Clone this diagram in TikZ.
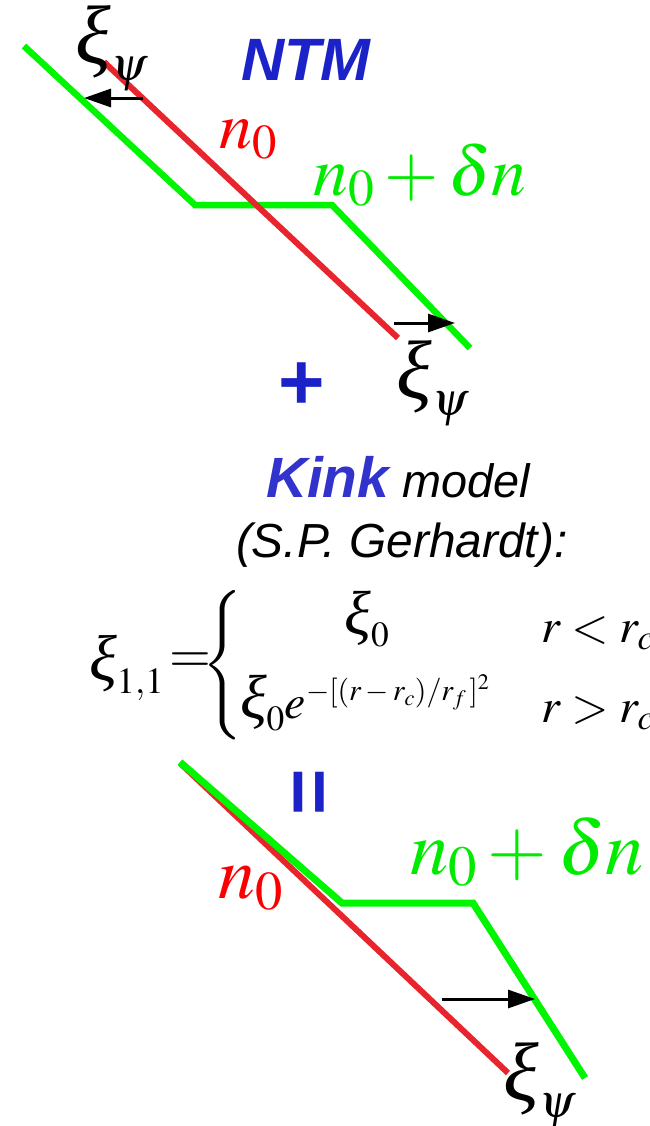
\documentclass[tikz,border=0pt]{standalone}
\usepackage{mathptmx}
\usepackage[no-math]{fontspec}
\newfontfamily\arialf{Liberation Sans}
\newfontfamily\timesf{Liberation Serif}
\usetikzlibrary{arrows.meta}
\newcommand\XI{\mbox{\timesf\itshape\addfontfeatures{Scale=1.3}ξ}}
\definecolor{lred}{RGB}{232,36,44}
\definecolor{tred}{RGB}{250,0,0}
\definecolor{lgreen}{RGB}{0,245,0}
\definecolor{tgreen}{RGB}{0,235,0}
\definecolor{ntmblue}{RGB}{26,34,200}
\definecolor{kinkblue}{RGB}{50,50,205}
\tikzset{
  redline/.style={draw=lred,line width=6bp},
  greenline/.style={draw=lgreen,line width=6.5bp,line join=miter},
  shiftarrow/.style={draw=black,line width=3bp,-{Triangle[length=27bp,width=18bp]}},
  lbl/.style={inner sep=0pt,outer sep=0pt},
  fs/.style={font=\fontsize{#1}{#1}\selectfont}
}
\begin{document}
\begin{tikzpicture}[x=1bp,y=-1bp]
\useasboundingbox (0,0) rectangle (650,1126);
% ---------- top panel (NTM)
\coordinate (g1) at (24,46);
\coordinate (g2) at (195,205);
\coordinate (g3) at (332,205);
\coordinate (g4) at (470,348);
\coordinate (r1) at (104,62);
\coordinate (r2) at (398,338);
\draw[greenline] (g1) -- (g2) -- (g3) -- (g4);
\draw[redline] (r1) -- (r2);
\coordinate (a1s) at (143,98);
\coordinate (a1e) at (84,98);
\coordinate (a2s) at (394,323);
\coordinate (a2e) at (455,323);
\draw[shiftarrow] (a1s) -- (a1e);
\draw[shiftarrow] (a2s) -- (a2e);
\node[lbl,fs=64] (xitop) at (112,48) {$\XI_\psi$};
\node[lbl,fs=66,text=tred] (n0top) at (248,140) {$n_0$};
\node[lbl,fs=70,text=tgreen] (ndtop) at (420,175) {$n_0+\delta n$};
\node[lbl,fs=60,text=ntmblue] (ntm) at (306,60) {\arialf\bfseries\itshape NTM};
\node[lbl,fs=80,text=ntmblue] (plus) at (302,386) {\arialf\bfseries +};
\node[lbl,fs=64] (xibot) at (433,383) {$\XI_\psi$};
% ---------- kink model
\node[lbl,anchor=base west] (kink) at (266,497) {\arialf\itshape{\fontsize{57}{60}\selectfont\bfseries\color{kinkblue}Kink}\fontsize{47}{50}\selectfont\ model};
\node[lbl,anchor=base west,fs=48] (gerh) at (236,557) {\arialf\itshape (S.P. Gerhardt):};
\node[lbl,anchor=west,fs=50] (lhs) at (89,668) {$\XI_{1,1}$};
\node[lbl,fs=54] (eqs) at (190,663) {$=$};
\node[lbl,fs=50] (brace) at (223,665) {$\left\{\vrule height 62bp depth 62bp width 0pt\right.$};
\node[lbl,fs=48] (c1) at (367,619) {$\XI_0$};
\node[lbl,anchor=west,fs=48] (c2) at (240,703) {$\XI_0 e^{\mbox{\fontsize{30}{30}\selectfont$-[(r-r_c)/r_f\,]^2$}}$};
\node[lbl,anchor=west,fs=48] (k1) at (541,633) {$r<r_c$};
\node[lbl,anchor=west,fs=48] (k2) at (541,713) {$r>r_c$};
% ---------- bottom panel
\node[lbl,fs=80,text=ntmblue,rotate=90] (eq) at (315,792) {\arialf\bfseries =};
\coordinate (b1) at (180,763);
\coordinate (b2) at (508,1073);
\coordinate (h1) at (180,762);
\coordinate (h2) at (342,903);
\coordinate (h3) at (473,903);
\coordinate (h4) at (585,1078);
\draw[redline] (b1) -- (b2);
\draw[greenline,line width=7bp] (h1) -- (h2) -- (h3) -- (h4);
\coordinate (a3s) at (442,999);
\coordinate (a3e) at (535,999);
\draw[shiftarrow] (a3s) -- (a3e);
\node[lbl,fs=74,text=tred] (n0b) at (251,888) {$n_0$};
\node[lbl,fs=77,text=tgreen] (ndb) at (527,852) {$n_0+\delta n$};
\node[lbl,fs=64] (xib) at (540,1085) {$\XI_\psi$};
\end{tikzpicture}
\end{document}
